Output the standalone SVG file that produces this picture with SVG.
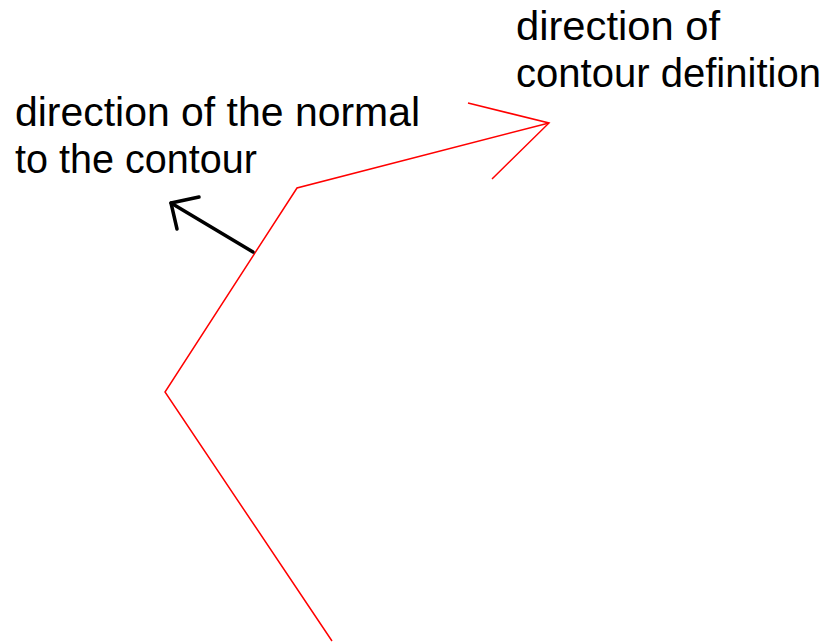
<svg xmlns="http://www.w3.org/2000/svg" width="831" height="644" viewBox="0 0 831 644">
<style>
.lbl{font-family:"Liberation Sans",Arial,sans-serif;font-size:41px;fill:#000}
.contour{fill:none;stroke:#ff0000;stroke-width:1.5}
.normal{fill:none;stroke:#000;stroke-width:3.5;stroke-linecap:round;stroke-linejoin:round}
</style>
<rect width="831" height="644" fill="#fff"/>
<g id="contour">
<polyline class="contour" points="332,641 165,392 297,188 549,123"/>
<polyline class="contour" points="468,103 549,123 492,179"/>
</g>
<g id="connectors">
<line class="normal" x1="253" y1="252" x2="171" y2="203"/>
<polyline class="normal" points="199,197 171,203 177,229"/>
</g>
<g id="label-normal">
<text class="lbl" x="15" y="126" textLength="405" lengthAdjust="spacingAndGlyphs">direction of the normal</text>
<text class="lbl" x="15" y="173" textLength="242" lengthAdjust="spacingAndGlyphs">to the contour</text>
</g>
<g id="label-direction">
<text class="lbl" x="516" y="40" textLength="204" lengthAdjust="spacingAndGlyphs">direction of</text>
<text class="lbl" x="516" y="87" textLength="305" lengthAdjust="spacingAndGlyphs">contour definition</text>
</g>
</svg>
